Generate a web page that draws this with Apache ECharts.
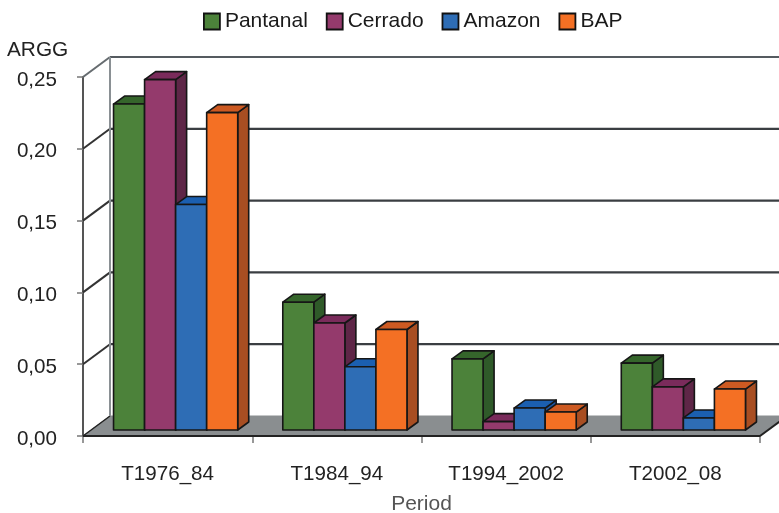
<!DOCTYPE html>
<html><head><meta charset="utf-8">
<style>html,body{margin:0;padding:0;background:#fff}#c{width:779px;height:513px}</style>
<script src="https://cdn.jsdelivr.net/npm/echarts@6/dist/echarts.min.js"></script>
</head><body><div id="c"></div>
<script>
const categories = ['T1976_84','T1984_94','T1994_2002','T2002_08'];
const pantanal = [0.227,0.089,0.0495,0.0466];
const cerrado = [0.244,0.0745,0.0058,0.030];
const amazon = [0.157,0.044,0.0153,0.0084];
const bap = [0.221,0.070,0.0125,0.0285];
const yTicks = [0,0.05,0.10,0.15,0.20,0.25];

const FONT = '"Liberation Sans", Arial, sans-serif';
const WALL = {dx:27, dy:-20};
const BAR_PLANE = {dx:8, dy:-6};
const BAR_DEPTH = {dx:11, dy:-8};
const BAR_FRAC = 31/169;

const chart = echarts.init(document.getElementById('c'),null,{renderer:'canvas'});

function wallItem(params, api){
  const v = api.value(0);
  const cs = params.coordSys;
  const p = api.coord([0,v]);
  const y = p[1];
  const L = cs.x, R = cs.x+cs.width;
  const kids = [];
  const line = (a,b,c,w)=>({type:'line',shape:{x1:a[0],y1:a[1],x2:b[0],y2:b[1]},style:{stroke:c,lineWidth:w}});
  if(v===0){
    kids.push({type:'polygon',shape:{points:[[L,y],[L+WALL.dx,y+WALL.dy],[R+WALL.dx,y+WALL.dy],[R,y]]},
      style:{fill:'#8a8e90',stroke:'#8a8e90',lineWidth:1}});
    kids.push(line([L,y],[L+WALL.dx,y+WALL.dy],'#222',1.5));
    kids.push(line([R,y],[R+WALL.dx,y+WALL.dy],'#222',2));
    kids.push(line([L,y],[R,y],'#222',2));
  } else {
    const top = v===yTicks[yTicks.length-1];
    kids.push(line([L,y],[L+WALL.dx,y+WALL.dy],top?'#666c70':'#333',2));
    kids.push(line([L+WALL.dx,y+WALL.dy],[R+WALL.dx,y+WALL.dy],top?'#555b60':'#3a3e42',2.2));
    if(top){
      const y0 = api.coord([0,0])[1];
      kids.push(line([L+WALL.dx,y+WALL.dy],[L+WALL.dx,y0+WALL.dy],'#8a9094',2));
    }
  }
  return {type:'group',children:kids};
}

function barRenderer(idx, topC, sideC){
  return function(params, api){
    const cat = api.value(0), val = api.value(1);
    const band = api.size([1,0])[0];
    const w = band*BAR_FRAC;
    const c0 = api.coord([cat,0]), c1 = api.coord([cat,val]);
    const x0 = c0[0]+BAR_PLANE.dx+(idx-2)*w, x1 = x0+w;
    const yb = c0[1]+BAR_PLANE.dy, yt = c1[1]+BAR_PLANE.dy;
    const dx = BAR_DEPTH.dx, dy = BAR_DEPTH.dy;
    const stroke = {stroke:'#161616',lineWidth:1.6,lineJoin:'round'};
    return {type:'group',children:[
      {type:'polygon',shape:{points:[[x1,yt],[x1+dx,yt+dy],[x1+dx,yb+dy],[x1,yb]]},style:Object.assign({fill:sideC},stroke)},
      {type:'polygon',shape:{points:[[x0,yt],[x0+dx,yt+dy],[x1+dx,yt+dy],[x1,yt]]},style:Object.assign({fill:topC},stroke)},
      {type:'rect',shape:{x:x0,y:yt,width:w,height:yb-yt},style:Object.assign({fill:api.visual('color')},stroke)}
    ]};
  };
}

const defs = [
  {name:'Pantanal',data:pantanal,color:'#4c823a',top:'#35652b',side:'#2f5a29'},
  {name:'Cerrado',data:cerrado,color:'#943a6c',top:'#7a2b5b',side:'#5e2647'},
  {name:'Amazon',data:amazon,color:'#2e6db5',top:'#1b5fb0',side:'#1d56a0'},
  {name:'BAP',data:bap,color:'#f47024',top:'#cd5a22',side:'#a84e22'}
];

chart.setOption({
  animation:false,
  backgroundColor:'#fff',
  textStyle:{fontFamily:FONT},
  legend:{
    data:defs.map(d=>d.name),left:198,top:6,itemWidth:16,itemHeight:16,itemGap:18,icon:'rect',
    textStyle:{fontFamily:FONT,fontSize:21,color:'#1a1a1a'},
    itemStyle:{borderColor:'#111',borderWidth:1.8}
  },
  grid:{left:83,right:19,top:77,bottom:77,containLabel:false,outerBoundsMode:'none'},
  xAxis:{
    type:'category',data:categories,boundaryGap:true,
    name:'Period',nameLocation:'middle',nameGap:58,
    nameTextStyle:{fontFamily:FONT,fontSize:21,color:'#555'},
    axisLine:{show:true,lineStyle:{color:'#222',width:2}},
    axisTick:{show:true,length:7,lineStyle:{color:'#777',width:1.5}},
    axisLabel:{fontFamily:FONT,fontSize:20.6,color:'#222',margin:28,interval:0},
    splitLine:{show:false}
  },
  yAxis:{
    type:'value',min:0,max:0.25,interval:0.05,
    name:'ARGG',nameLocation:'end',nameGap:16,
    nameTextStyle:{fontFamily:FONT,fontSize:20.8,color:'#222',align:'left',padding:[0,0,0,-76]},
    axisLine:{show:true,lineStyle:{color:'#555',width:2}},
    axisTick:{show:true,length:6,lineStyle:{color:'#777',width:1.5}},
    axisLabel:{fontFamily:FONT,fontSize:20.6,color:'#222',margin:26,verticalAlign:'top',lineHeight:6,formatter:v=>v.toFixed(2).replace('.',',')},
    splitLine:{show:false}
  },
  series:[
    {type:'custom',name:'frame',silent:true,clip:false,z:1,renderItem:wallItem,encode:{y:0},data:yTicks.map(v=>[v])}
  ].concat(defs.map((d,i)=>({
    type:'custom',name:d.name,clip:false,z:3+i,
    itemStyle:{color:d.color},
    renderItem:barRenderer(i,d.top,d.side),
    encode:{x:0,y:1},
    data:d.data.map((v,j)=>[j,v])
  })))
});
</script></body></html>
